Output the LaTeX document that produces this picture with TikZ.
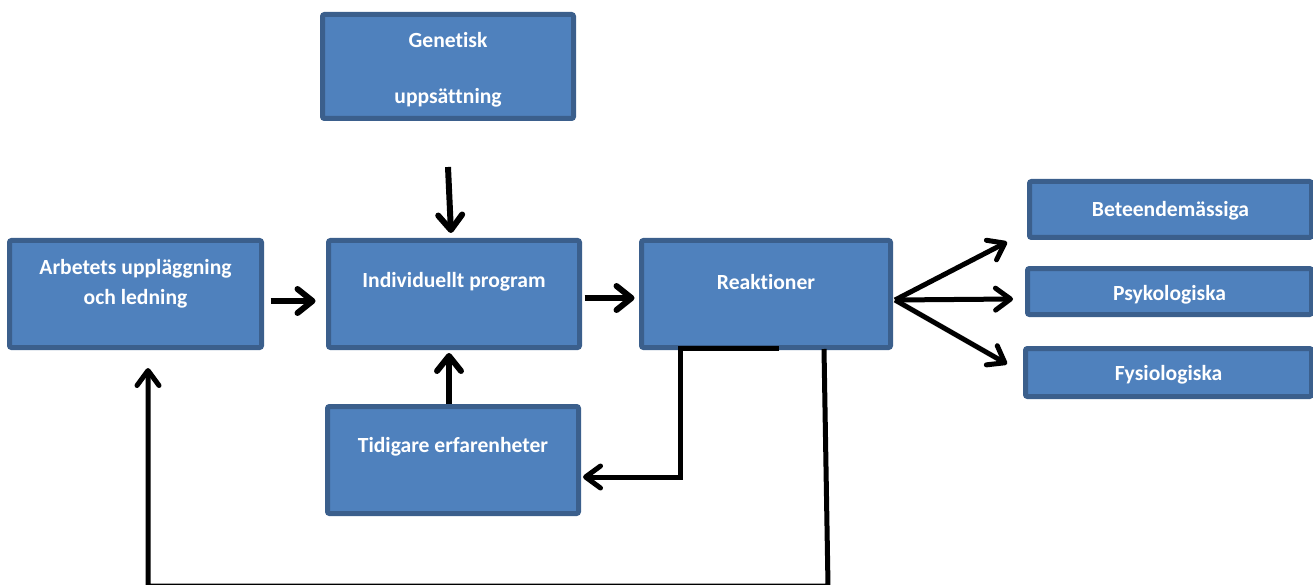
\documentclass[tikz,border=0pt]{standalone}
\usepackage{fontspec}
\setmainfont{Carlito}[Ligatures=NoCommon]
\usetikzlibrary{arrows.meta,calc}
\definecolor{boxfill}{HTML}{4F81BD}
\definecolor{boxline}{HTML}{3B5F8C}
\begin{document}
\begin{tikzpicture}[x=1pt,y=-1pt,
  box/.style={draw=boxline, fill=boxfill, line width=5pt, rounded corners=2pt, inner sep=0pt},
  lab/.style={text=white, font=\fontsize{21.6}{30}\selectfont\bfseries, align=center, inner sep=0pt},
  arr/.style={line width=6pt, -{Straight Barb[length=15pt,width=24pt,round]}},
  farr/.style={line width=5pt, -{Straight Barb[length=15pt,width=22pt,round]}}]
\useasboundingbox (0,0) rectangle (1313,585);

% boxes
\node[box, minimum width=251pt, minimum height=104pt,
  label={[lab,name=genT,yshift=-3.5pt,font=\fontsize{21.6}{28}\selectfont\bfseries]center:Genetisk\\[28pt]uppsättning}] (gen) at (448,66.5) {};
\node[box, minimum width=252pt, minimum height=107pt,
  label={[lab,name=arbT,yshift=10pt]center:Arbetets uppläggning\\och ledning}] (arb) at (135.5,294) {};
\node[box, minimum width=251pt, minimum height=107pt,
  label={[lab,name=indT,yshift=12pt]center:Individuellt program}] (ind) at (454,294) {};
\node[box, minimum width=249pt, minimum height=107pt,
  label={[lab,name=reaT,yshift=12pt]center:Reaktioner}] (rea) at (766,294) {};
\node[box, minimum width=251pt, minimum height=107pt,
  label={[lab,name=tidT,yshift=13pt]center:Tidigare erfarenheter}] (tid) at (453,460) {};
\node[box, minimum width=282pt, minimum height=56pt,
  label={[lab,name=behT,yshift=-1pt]center:Beteendemässiga}] (beh) at (1170.5,209.5) {};
\node[box, minimum width=284pt, minimum height=46pt,
  label={[lab,name=psyT,yshift=-3pt]center:Psykologiska}] (psy) at (1169.5,291.5) {};
\node[box, minimum width=286pt, minimum height=48pt,
  label={[lab,name=fysT,yshift=-2pt]center:Fysiologiska}] (fys) at (1168.5,372.5) {};

% coordinates for connector ends
\coordinate (g1) at (448,167);
\coordinate (g2) at (451,233);
\coordinate (o) at (895,300);
\coordinate (t1) at (1007,242);
\coordinate (t2) at (1013,299);
\coordinate (t3) at (1007,364);
\coordinate (a1) at (779,348);
\coordinate (a2) at (680,348);
\coordinate (a3) at (680,477);
\coordinate (a4) at (583,477);
\coordinate (b1) at (824,349);
\coordinate (b2) at (828,586);
\coordinate (b3) at (148,586);
\coordinate (b4) at (148,368);

% connectors
\draw[arr] (g1) -- (g2);
\draw[arr] ($(arb.east)+(6.5,7)$) -- ($(ind.west)+(-10.5,7)$);
\draw[arr] ($(ind.east)+(2.5,4)$) -- ($(rea.west)+(-4.5,4)$);
\draw[farr] (o) -- (t1);
\draw[farr] (o) -- (t2);
\draw[farr] (o) -- (t3);
\draw[arr] ($(tid.north)+(-4,0)$) -- ($(ind.south)+(-5,3)$);
\draw[farr] (a1) -- (a2) -- (a3) -- (a4);
\draw[farr] (b1) -- (b2) -- (b3) -- (b4);
\end{tikzpicture}
\end{document}
